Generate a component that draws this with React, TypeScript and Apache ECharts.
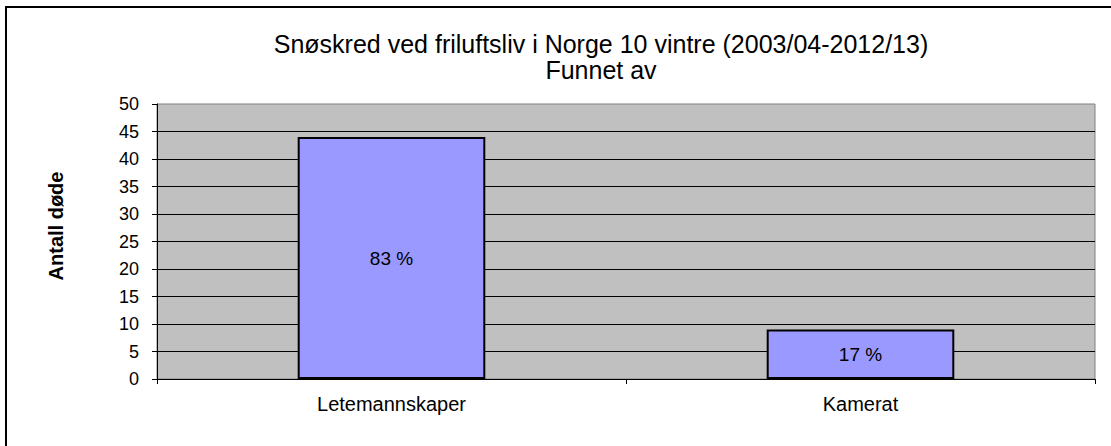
import React, { useEffect, useRef } from "react";
import * as echarts from "echarts";

const titleLine1 = "Snøskred ved friluftsliv i Norge 10 vintre (2003/04-2012/13)";
const titleLine2 = "Funnet av";
const yAxisName = "Antall døde";
const categories = ["Letemannskaper", "Kamerat"];
const deaths = [44, 9];
const shares = ["83 %", "17 %"];

const FONT = 'Arial, "Liberation Sans", sans-serif';

export default function App() {
  const ref = useRef<HTMLDivElement>(null);
  useEffect(() => {
    if (!ref.current) return;
    const chart = echarts.init(ref.current, undefined, { renderer: "svg" });
    chart.setOption({
      animation: false,
      backgroundColor: "#ffffff",
      textStyle: { fontFamily: FONT },
      graphic: [
        {
          type: "rect",
          shape: { x: 6, y: 7, width: 1120, height: 460 },
          style: { fill: "none", stroke: "#000", lineWidth: 2 },
          silent: true,
        },
        {
          type: "text",
          x: 601,
          y: 44,
          style: {
            text: titleLine1,
            fontSize: 25,
            fontFamily: FONT,
            fill: "#000",
            textAlign: "center",
            textVerticalAlign: "middle",
          },
        },
        {
          type: "text",
          x: 601,
          y: 70,
          style: {
            text: titleLine2,
            fontSize: 25,
            fontFamily: FONT,
            fill: "#000",
            textAlign: "center",
            textVerticalAlign: "middle",
          },
        },
        {
          type: "text",
          x: 56,
          y: 226,
          rotation: Math.PI / 2,
          style: {
            text: yAxisName,
            fontSize: 20,
            fontWeight: "bold",
            fontFamily: FONT,
            fill: "#000",
            textAlign: "center",
            textVerticalAlign: "middle",
          },
        },
      ],
      grid: {
        left: 157,
        right: 16,
        top: 104,
        bottom: 67,
        show: true,
        backgroundColor: "#C0C0C0",
        borderColor: "#808080",
        borderWidth: 1,
      },
      xAxis: {
        type: "category",
        data: categories,
        axisLine: { show: true, lineStyle: { color: "#000", width: 1 } },
        axisTick: { show: true, length: 5, alignWithLabel: false, lineStyle: { color: "#000" } },
        axisLabel: { color: "#000", fontSize: 20, margin: 15, fontFamily: FONT },
        splitLine: { show: false },
      },
      yAxis: {
        type: "value",
        min: 0,
        max: 50,
        interval: 5,
        axisLine: { show: true, lineStyle: { color: "#000", width: 1 } },
        axisTick: { show: true, length: 5, lineStyle: { color: "#000" } },
        axisLabel: { color: "#000", fontSize: 18, margin: 18, fontFamily: FONT },
        splitLine: { show: true, showMaxLine: false, lineStyle: { color: "#000", width: 1 } },
      },
      series: [
        {
          type: "bar",
          data: deaths,
          barWidth: "40%",
          itemStyle: { color: "#9999FF", borderColor: "#000", borderWidth: 2 },
          label: {
            show: true,
            position: "inside",
            color: "#000",
            fontSize: 19,
            fontFamily: FONT,
            formatter: (p: any) => shares[p.dataIndex],
          },
        },
      ],
    });
    return () => chart.dispose();
  }, []);
  return (
    <div
      ref={ref}
      style={{ position: "absolute", left: 0, top: 0, width: 1111, height: 446 }}
    />
  );
}
